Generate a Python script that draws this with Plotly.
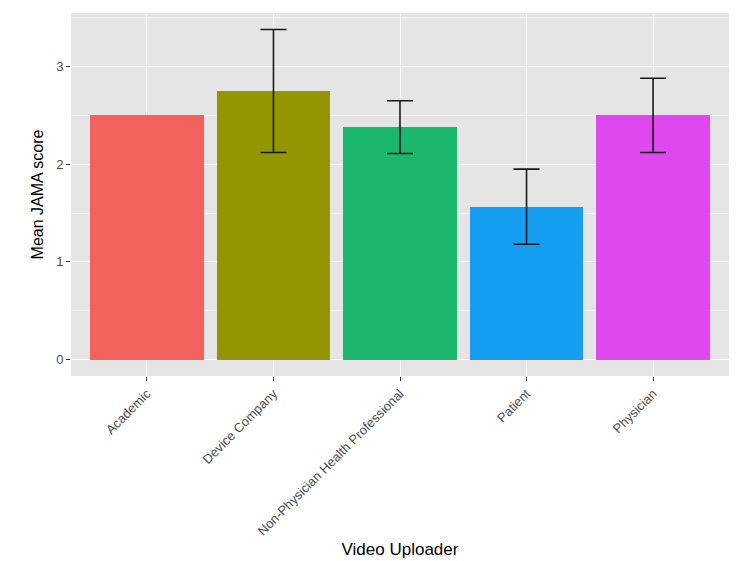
import plotly.graph_objects as go

categories = ["Academic", "Device Company", "Non-Physician Health Professional", "Patient", "Physician"]
means = [2.50, 2.75, 2.38, 1.56, 2.50]
ci_lower = [None, 2.12, 2.11, 1.18, 2.12]
ci_upper = [None, 3.38, 2.65, 1.95, 2.88]
colors = ["#F2615C", "#939601", "#1BB76D", "#169FF2", "#DD48EF"]

fig = go.Figure()
fig.add_trace(go.Bar(
    x=categories, y=means, marker=dict(color=colors, line=dict(width=0)),
    width=0.9, showlegend=False, hoverinfo="x+y",
))

ex, ey, eplus, eminus = [], [], [], []
for c, m, lo, hi in zip(categories, means, ci_lower, ci_upper):
    if lo is None:
        continue
    ex.append(c); ey.append(m); eplus.append(hi - m); eminus.append(m - lo)

fig.add_trace(go.Scatter(
    x=ex, y=ey, mode="markers",
    marker=dict(size=1, color="rgba(0,0,0,0)"),
    error_y=dict(type="data", array=eplus, arrayminus=eminus, symmetric=False,
                 color="#1a1a1a", thickness=1.6, width=13),
    showlegend=False, hoverinfo="skip",
))

fig.update_layout(
    width=750, height=561,
    margin=dict(l=71, r=21, t=13, b=185),
    paper_bgcolor="white", plot_bgcolor="#E5E5E5",
    font=dict(family="Liberation Sans, Arial, sans-serif", color="#4D4D4D", size=13),
    bargap=0,
)
fig.update_xaxes(
    type="category", range=[-0.6, 4.6], automargin=False,
    showgrid=True, gridcolor="white", gridwidth=1.4,
    ticks="outside", ticklen=4, tickcolor="#333333", tickwidth=1.2,
    tickangle=-45, tickfont=dict(size=13, color="#4D4D4D"),
    title=dict(text="Video Uploader", font=dict(size=17, color="black"), standoff=5),
    zeroline=False, showline=False,
)
fig.update_yaxes(
    range=[-0.169, 3.549], tickvals=[0, 1, 2, 3], automargin=False,
    showgrid=True, gridcolor="white", gridwidth=1.4,
    minor=dict(tickvals=[0.5, 1.5, 2.5, 3.5], showgrid=True, gridcolor="#F2F2F2", gridwidth=0.7, ticks=""),
    ticks="outside", ticklen=4, tickcolor="#333333", tickwidth=1.2,
    tickfont=dict(size=13, color="#4D4D4D"),
    title=dict(text="Mean JAMA score", font=dict(size=16, color="black"), standoff=8),
    zeroline=False, showline=False,
)

fig.write_html("out.html")
